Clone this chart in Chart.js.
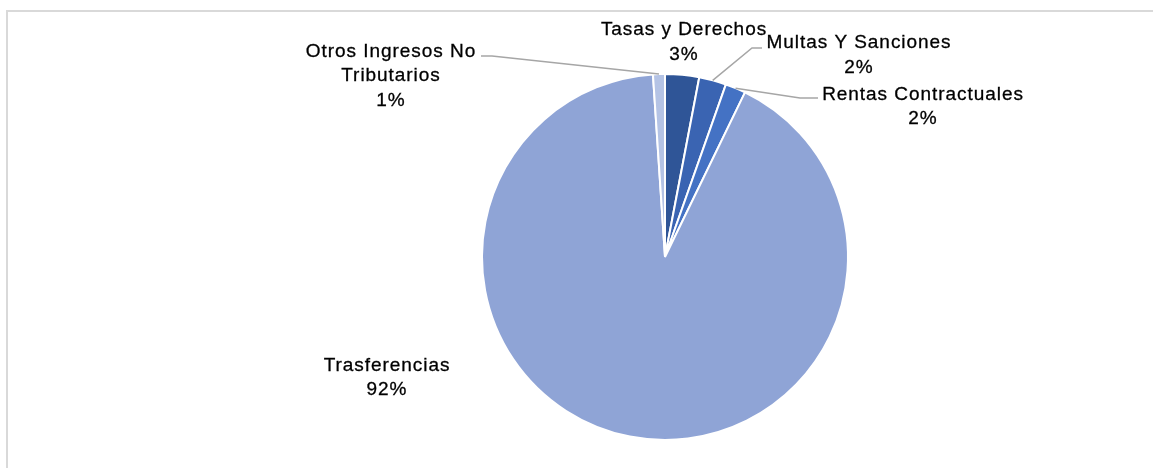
<!DOCTYPE html>
<html>
<head>
<meta charset="utf-8">
<script src="https://cdn.jsdelivr.net/npm/chart.js@4.4.0/dist/chart.umd.min.js"></script>
<style>
  html, body { margin: 0; padding: 0; background: #ffffff; }
  #wrap { position: relative; width: 1153px; height: 468px; }
  canvas { display: block; }
</style>
</head>
<body>
<div id="wrap"><canvas id="c" width="1153" height="468"></canvas></div>
<script>
// ---- Data ----
const categories = ["Tasas y Derechos", "Multas Y Sanciones", "Rentas Contractuales", "Trasferencias", "Otros Ingresos No Tributarios"];
const shares = [3.0, 2.4, 1.8, 91.75, 1.05];
const sliceColors = ["#2F5597", "#3A64B2", "#4472C4", "#8FA4D6", "#B4C3E5"];

// label layout (line texts, text centre x, first baseline y, leader elbow + end)
const labelLines = [
  ["Tasas y Derechos"],
  ["Multas Y Sanciones"],
  ["Rentas Contractuales"],
  ["Trasferencias"],
  ["Otros Ingresos No", "Tributarios"]
];
const labelLayout = [
  { x: 684, y: 35, leader: null },
  { x: 859, y: 48, leader: [[752, 48], [762, 48]] },
  { x: 923, y: 99.5, leader: [[800, 98], [818, 98]] },
  { x: 387, y: 370.5, leader: null },
  { x: 391, y: 56.5, leader: [[492, 56], [481, 56]] }
];

const frame = {
  id: 'frame',
  beforeDraw(chart) {
    const ctx = chart.ctx;
    ctx.save();
    ctx.fillStyle = '#D9D9D9';
    ctx.fillRect(6, 10, 1153 - 6, 2);
    ctx.fillRect(6, 10, 2, 468 - 10);
    ctx.restore();
  }
};

const labels = {
  id: 'pieLabels',
  afterDatasetsDraw(chart) {
    const ctx = chart.ctx;
    const meta = chart.getDatasetMeta(0);
    const total = shares.reduce((a, b) => a + b, 0);
    ctx.save();
    meta.data.forEach((arc, i) => {
      const p = arc.getProps(['x', 'y', 'startAngle', 'endAngle', 'outerRadius'], true);
      const mid = (p.startAngle + p.endAngle) / 2;
      const ax = p.x + Math.cos(mid) * p.outerRadius;
      const ay = p.y + Math.sin(mid) * p.outerRadius;
      const lay = labelLayout[i];
      if (lay.leader) {
        ctx.strokeStyle = '#A6A6A6';
        ctx.lineWidth = 1.5;
        ctx.beginPath();
        ctx.moveTo(ax, ay);
        lay.leader.forEach(pt => ctx.lineTo(pt[0], pt[1]));
        ctx.stroke();
      }
      const lines = labelLines[i].concat([Math.round(shares[i] / total * 100) + '%']);
      ctx.fillStyle = '#000000';
      ctx.strokeStyle = '#000000';
      ctx.lineWidth = 0.3;
      ctx.font = '19px "Liberation Sans", Arial, sans-serif';
      ctx.textAlign = 'center';
      ctx.textBaseline = 'alphabetic';
      try { ctx.letterSpacing = '0.95px'; } catch (e) {}
      lines.forEach((t, k) => {
        ctx.fillText(t, lay.x, lay.y + k * 24.8);
        ctx.strokeText(t, lay.x, lay.y + k * 24.8);
      });
    });
    ctx.restore();
  }
};

new Chart(document.getElementById('c'), {
  type: 'pie',
  data: {
    labels: categories,
    datasets: [{
      data: shares,
      backgroundColor: sliceColors,
      borderColor: '#FFFFFF',
      borderWidth: 2
    }]
  },
  options: {
    responsive: false,
    animation: false,
    layout: { padding: { left: 481, right: 304, top: 73, bottom: 27 } },
    plugins: {
      legend: { display: false },
      tooltip: { enabled: false }
    }
  },
  plugins: [frame, labels]
});
</script>
</body>
</html>
